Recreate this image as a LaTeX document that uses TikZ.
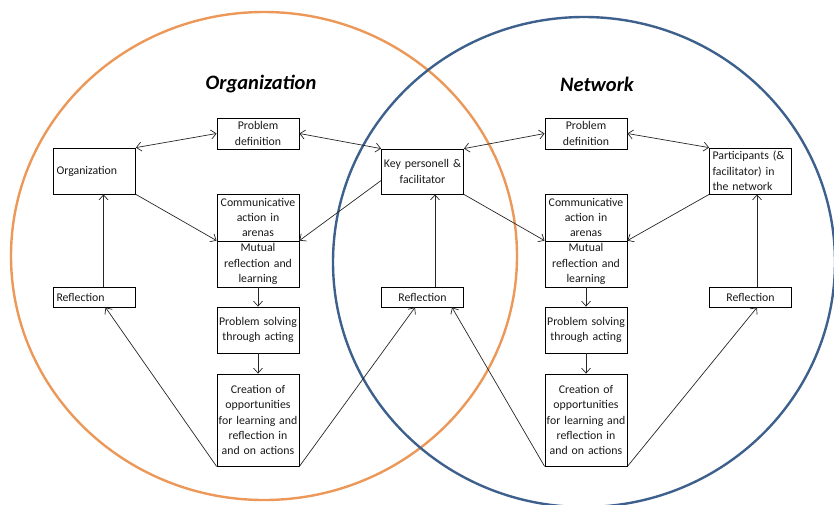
\documentclass[tikz,border=0pt]{standalone}
\usepackage{fontspec}
\setmainfont{Carlito}
\usetikzlibrary{arrows.meta}
\definecolor{orgorange}{RGB}{236,152,88}
\definecolor{netblue}{RGB}{62,96,140}
\begin{document}
\begin{tikzpicture}[x=1pt,y=-1pt,
  boxc/.style={draw, line width=0.8pt, fill=white, inner sep=0pt, minimum width=82pt,
    text width=80pt, align=center, font=\fontsize{11.8}{15.3}\selectfont, text=black!90},
  boxl/.style={boxc, text width=76pt, align=left},
  arr/.style={-{Straight Barb[length=5pt,width=9pt]}, line width=0.7pt, black!85},
  darr/.style={{Straight Barb[length=5pt,width=9pt]}-{Straight Barb[length=5pt,width=9pt]}, line width=0.7pt, black!85},
  ttl/.style={font=\fontsize{20.5}{24}\selectfont\bfseries\itshape}]
\path[use as bounding box] (0,0) rectangle (834,504);
% circles
\draw[orgorange, line width=2.4pt] (264,256) ellipse [x radius=253, y radius=244];
\draw[netblue, line width=2.4pt] (584,262) ellipse [x radius=251, y radius=245];
% titles
\node[ttl] (tOrg) at (261,84) {Organization};
\node[ttl] (tNet) at (597,84) {Network};
% left group
\node[boxc, minimum height=31pt] (pdl) at (258,133.5) {Problem\\definition};
\node[boxl, minimum height=46pt] (org) at (94.5,171) {Organization};
\node[boxc, minimum height=47pt] (comml) at (258,217.5) {Communicative\\action in\\arenas};
\node[boxc, minimum height=46pt] (mutl) at (258,264) {Mutual\\reflection and\\learning};
\node[boxl, minimum height=20pt] (reflL) at (94.5,297) {Reflection};
\node[boxc, minimum height=46pt] (psl) at (258,330) {Problem solving\\through acting};
\node[boxc, minimum height=92pt] (crl) at (258,420) {Creation of\\opportunities\\for learning and\\reflection in\\and on actions};
% middle
\node[boxc, minimum height=45pt] (key) at (422.5,171.5) {Key personell \&\\facilitator};
\node[boxc, minimum height=20pt] (reflM) at (422.5,297) {Reflection};
% right group
\node[boxc, minimum height=31pt] (pdr) at (586,133.5) {Problem\\definition};
\node[boxl, minimum height=46pt] (part) at (750.5,171) {Participants (\&\\facilitator) in\\the network};
\node[boxc, minimum height=47pt] (commr) at (586,217.5) {Communicative\\action in\\arenas};
\node[boxc, minimum height=46pt] (mutr) at (586,264) {Mutual\\reflection and\\learning};
\node[boxc, minimum height=20pt] (reflR) at (750.5,297) {Reflection};
\node[boxc, minimum height=46pt] (psr) at (586,330) {Problem solving\\through acting};
\node[boxc, minimum height=92pt] (crr) at (586,420) {Creation of\\opportunities\\for learning and\\reflection in\\and on actions};
% connectors left
\draw[darr] (org.north east) -- (pdl.west);
\draw[arr] (org.south east) -- (mutl.north west);
\draw[arr] (mutl.south) -- (psl.north);
\draw[arr] (psl.south) -- (crl.north);
\draw[arr] (crl.south west) -- ([xshift=11pt]reflL.south);
\draw[arr] ([xshift=9pt]reflL.north) -- ([xshift=9pt]org.south);
% middle
\draw[darr] (pdl.east) -- (key.north west);
\draw[darr] (key.north east) -- (pdr.west);
\draw[arr] ([yshift=-9pt]key.west) -- (mutl.north east);
\draw[arr] (key.south east) -- (mutr.north west);
\draw[arr] (crl.south east) -- ([xshift=-7.5pt]reflM.south);
\draw[arr] (crr.south west) -- ([xshift=29.5pt]reflM.south);
\draw[arr] ([xshift=12.5pt]reflM.north) -- ([xshift=12.5pt]key.south);
% right
\draw[darr] (pdr.east) -- (part.north west);
\draw[arr] (part.south west) -- (mutr.north east);
\draw[arr] (mutr.south) -- (psr.north);
\draw[arr] (psr.south) -- (crr.north);
\draw[arr] (crr.south east) -- ([xshift=6.5pt]reflR.south);
\draw[arr] ([xshift=6.5pt]reflR.north) -- ([xshift=6.5pt]part.south);
\end{tikzpicture}
\end{document}
